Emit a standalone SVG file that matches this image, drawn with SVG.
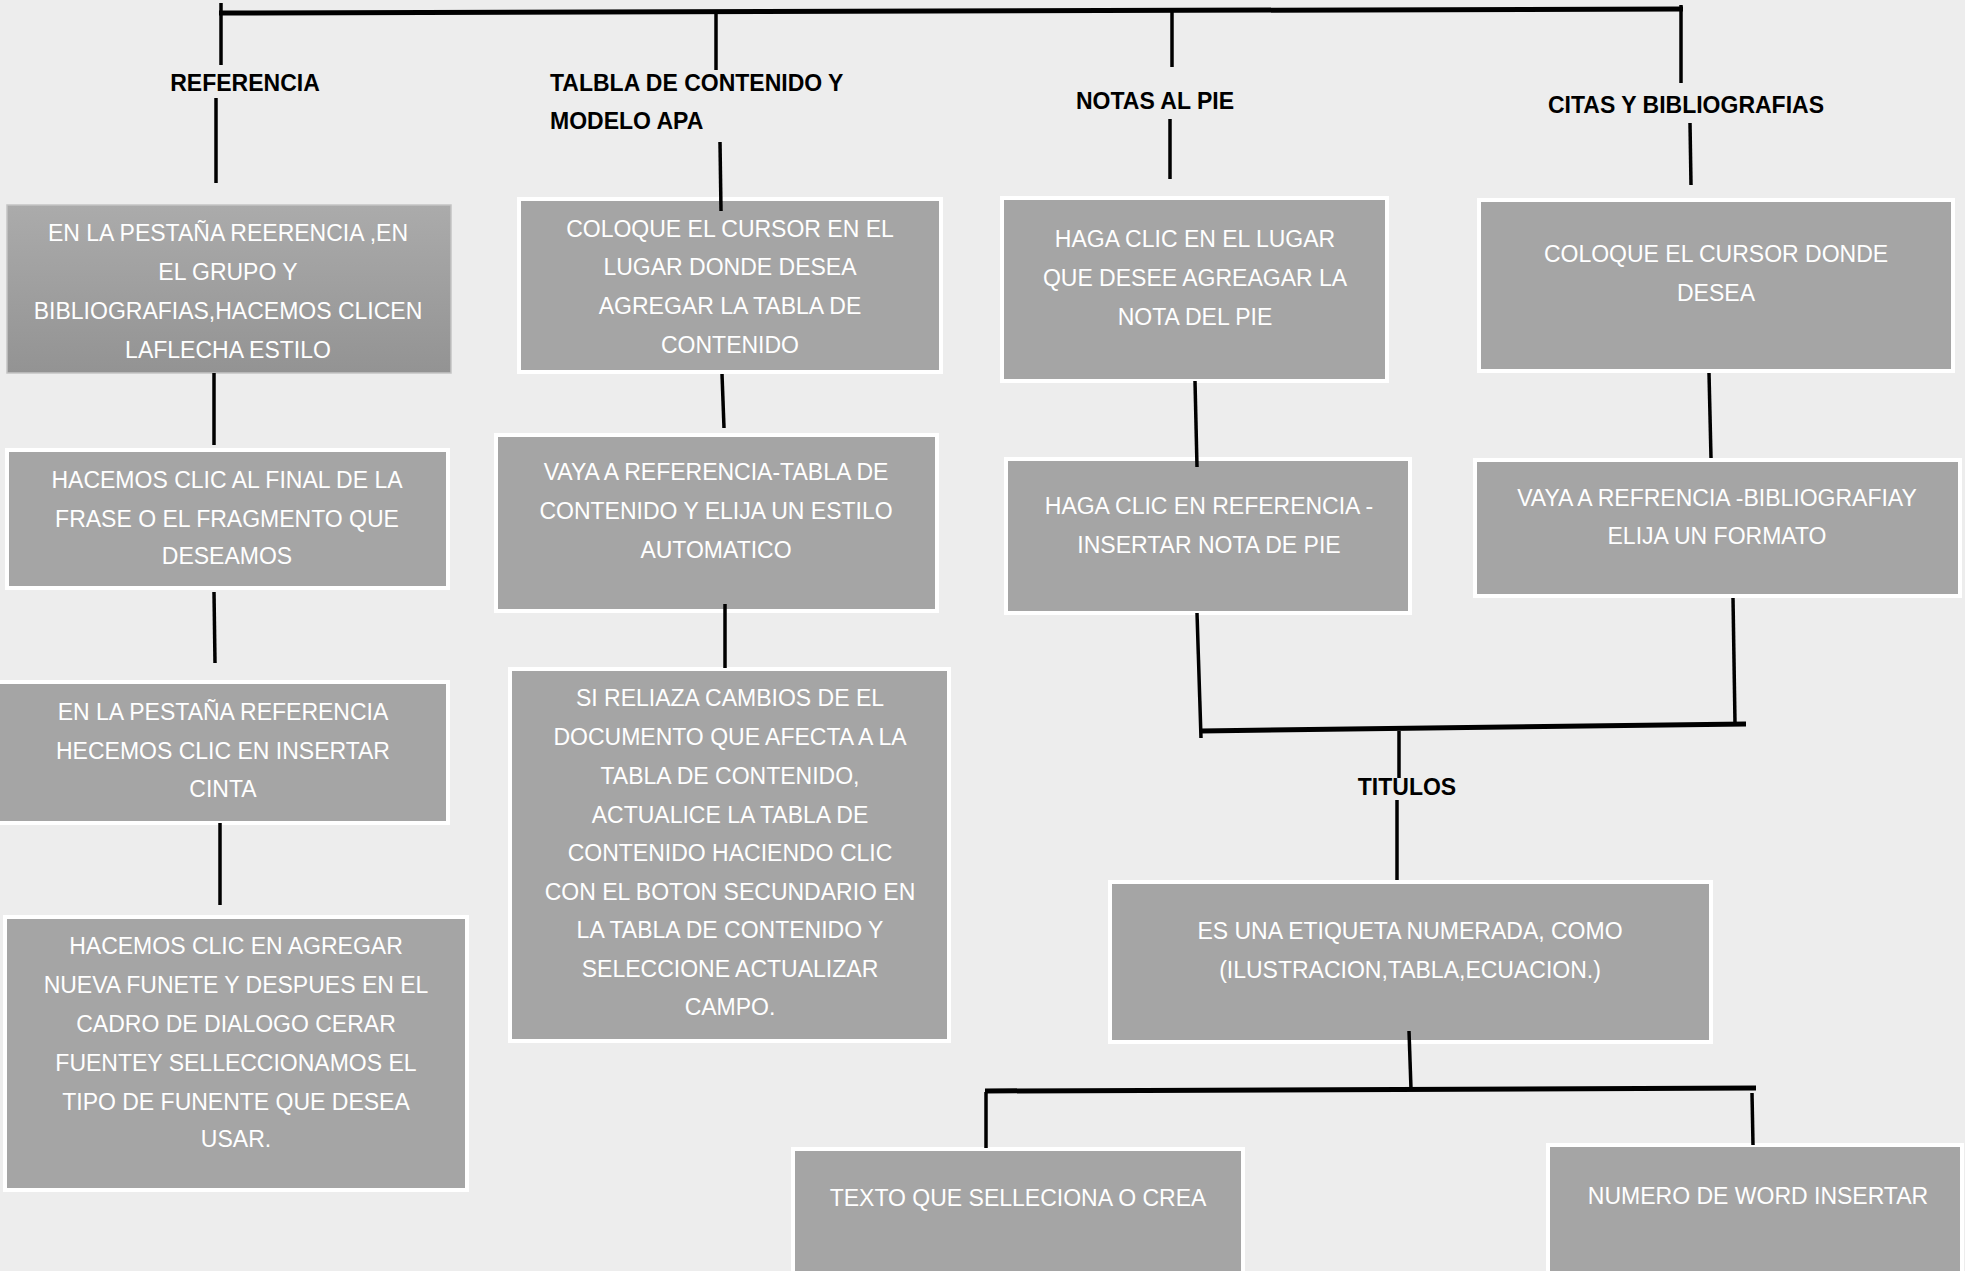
<svg xmlns="http://www.w3.org/2000/svg" width="1965" height="1271" viewBox="0 0 1965 1271">
<defs>
<linearGradient id="g1" x1="0" y1="0" x2="0" y2="1">
<stop offset="0" stop-color="#ababab"/>
<stop offset="1" stop-color="#939393"/>
</linearGradient>
</defs>
<style>
.bx{fill:#a5a5a5;stroke:#ffffff;stroke-width:4}
.t{font-family:"Liberation Sans",Arial,sans-serif;font-size:23px;fill:#ffffff;text-anchor:middle}
.lb{font-family:"Liberation Sans",Arial,sans-serif;font-size:23px;font-weight:bold;fill:#000000}
.c{stroke:#000000;stroke-width:3.5;fill:none}
.h{stroke:#000000;stroke-width:5;fill:none}
</style>
<rect width="1965" height="1271" fill="#ededed"/>
<g id="labels">
<text class="lb" x="245" y="91" text-anchor="middle">REFERENCIA</text>
<text class="lb" x="550" y="91">TALBLA DE CONTENIDO Y</text>
<text class="lb" x="550" y="129">MODELO APA</text>
<text class="lb" x="1155" y="109" text-anchor="middle">NOTAS AL PIE</text>
<text class="lb" x="1686" y="113" text-anchor="middle">CITAS Y BIBLIOGRAFIAS</text>
<text class="lb" x="1407" y="795" text-anchor="middle">TITULOS</text>
</g>
<g id="n1">
<rect x="7" y="205" width="444" height="168" fill="url(#g1)" stroke="#c4c4c4" stroke-width="1.5"/>
<text class="t" x="228" y="241">EN LA PESTAÑA REERENCIA ,EN</text>
<text class="t" x="228" y="280">EL GRUPO Y</text>
<text class="t" x="228" y="319">BIBLIOGRAFIAS,HACEMOS CLICEN</text>
<text class="t" x="228" y="358">LAFLECHA ESTILO</text>
</g>
<g id="n2">
<rect class="bx" x="519" y="199" width="422" height="173"/>
<text class="t" x="730" y="237">COLOQUE EL CURSOR EN EL</text>
<text class="t" x="730" y="275">LUGAR DONDE DESEA</text>
<text class="t" x="730" y="314">AGREGAR LA TABLA DE</text>
<text class="t" x="730" y="353">CONTENIDO</text>
</g>
<g id="n3">
<rect class="bx" x="1002" y="198" width="385" height="183"/>
<text class="t" x="1195" y="247">HAGA CLIC EN EL LUGAR</text>
<text class="t" x="1195" y="286">QUE DESEE AGREAGAR LA</text>
<text class="t" x="1195" y="325">NOTA DEL PIE</text>
</g>
<g id="n4">
<rect class="bx" x="1479" y="200" width="474" height="171"/>
<text class="t" x="1716" y="262">COLOQUE EL CURSOR DONDE</text>
<text class="t" x="1716" y="301">DESEA</text>
</g>
<g id="n5">
<rect class="bx" x="7" y="450" width="441" height="138"/>
<text class="t" x="227" y="488">HACEMOS CLIC AL FINAL DE LA</text>
<text class="t" x="227" y="527">FRASE O EL FRAGMENTO QUE</text>
<text class="t" x="227" y="564">DESEAMOS</text>
</g>
<g id="n6">
<rect class="bx" x="-2" y="682" width="450" height="141"/>
<text class="t" x="223" y="720">EN LA PESTAÑA REFERENCIA</text>
<text class="t" x="223" y="759">HECEMOS CLIC EN INSERTAR</text>
<text class="t" x="223" y="797">CINTA</text>
</g>
<g id="n7">
<rect class="bx" x="496" y="435" width="441" height="176"/>
<text class="t" x="716" y="480">VAYA A REFERENCIA-TABLA DE</text>
<text class="t" x="716" y="519">CONTENIDO Y ELIJA UN ESTILO</text>
<text class="t" x="716" y="558">AUTOMATICO</text>
</g>
<g id="n8">
<rect class="bx" x="510" y="669" width="439" height="372"/>
<text class="t" x="730" y="706">SI RELIAZA CAMBIOS DE EL</text>
<text class="t" x="730" y="745">DOCUMENTO QUE AFECTA A LA</text>
<text class="t" x="730" y="784">TABLA DE CONTENIDO,</text>
<text class="t" x="730" y="823">ACTUALICE LA TABLA DE</text>
<text class="t" x="730" y="861">CONTENIDO HACIENDO CLIC</text>
<text class="t" x="730" y="900">CON EL BOTON SECUNDARIO EN</text>
<text class="t" x="730" y="938">LA TABLA DE CONTENIDO Y</text>
<text class="t" x="730" y="977">SELECCIONE ACTUALIZAR</text>
<text class="t" x="730" y="1015">CAMPO.</text>
</g>
<g id="n9">
<rect class="bx" x="5" y="917" width="462" height="273"/>
<text class="t" x="236" y="954">HACEMOS CLIC EN AGREGAR</text>
<text class="t" x="236" y="993">NUEVA FUNETE Y DESPUES EN EL</text>
<text class="t" x="236" y="1032">CADRO DE DIALOGO CERAR</text>
<text class="t" x="236" y="1071">FUENTEY SELLECCIONAMOS EL</text>
<text class="t" x="236" y="1110">TIPO DE FUNENTE QUE DESEA</text>
<text class="t" x="236" y="1147">USAR.</text>
</g>
<g id="n10">
<rect class="bx" x="793" y="1149" width="450" height="124"/>
<text class="t" x="1018" y="1206">TEXTO QUE SELLECIONA O CREA</text>
</g>
<g id="n11">
<rect class="bx" x="1110" y="882" width="601" height="160"/>
<text class="t" x="1410" y="939">ES UNA ETIQUETA NUMERADA, COMO</text>
<text class="t" x="1410" y="978">(ILUSTRACION,TABLA,ECUACION.)</text>
</g>
<g id="n12">
<rect class="bx" x="1548" y="1145" width="414" height="128"/>
<text class="t" x="1758" y="1204">NUMERO DE WORD INSERTAR</text>
</g>
<g id="n13">
<rect class="bx" x="1006" y="459" width="404" height="154"/>
<text class="t" x="1209" y="514">HAGA CLIC EN REFERENCIA -</text>
<text class="t" x="1209" y="553">INSERTAR NOTA DE PIE</text>
</g>
<g id="n14">
<rect class="bx" x="1475" y="460" width="485" height="136"/>
<text class="t" x="1717" y="506">VAYA A REFRENCIA -BIBLIOGRAFIAY</text>
<text class="t" x="1717" y="544">ELIJA UN FORMATO</text>
</g>
<g id="connectors">
<path class="h" d="M219,13 L1683,9"/>
<path class="c" d="M221,3 L221,65"/>
<path class="c" d="M716,11 L716,70"/>
<path class="c" d="M1172,11 L1172,67"/>
<path class="c" d="M1681,5 L1681,83"/>
<path class="c" d="M216,98 L216,183"/>
<path class="c" d="M720,142 L721,211"/>
<path class="c" d="M1170,119 L1170,179"/>
<path class="c" d="M1690,123 L1691,185"/>
<path class="c" d="M214,373 L214,445"/>
<path class="c" d="M214,592 L215,663"/>
<path class="c" d="M220,823 L220,905"/>
<path class="c" d="M722,374 L724,428"/>
<path class="c" d="M725,604 L725,668"/>
<path class="c" d="M1195,381 L1197,467"/>
<path class="c" d="M1709,373 L1711,458"/>
<path class="c" d="M1197,613 L1201,738"/>
<path class="c" d="M1733,598 L1735,723"/>
<path class="h" d="M1201,731 L1746,724"/>
<path class="c" d="M1399,731 L1399,778"/>
<path class="c" d="M1397,800 L1397,880"/>
<path class="c" d="M1409,1031 L1411,1089"/>
<path class="h" d="M985,1091 L1756,1088"/>
<path class="c" d="M986,1092 L986,1148"/>
<path class="c" d="M1752,1093 L1753,1145"/>
</g>
</svg>
